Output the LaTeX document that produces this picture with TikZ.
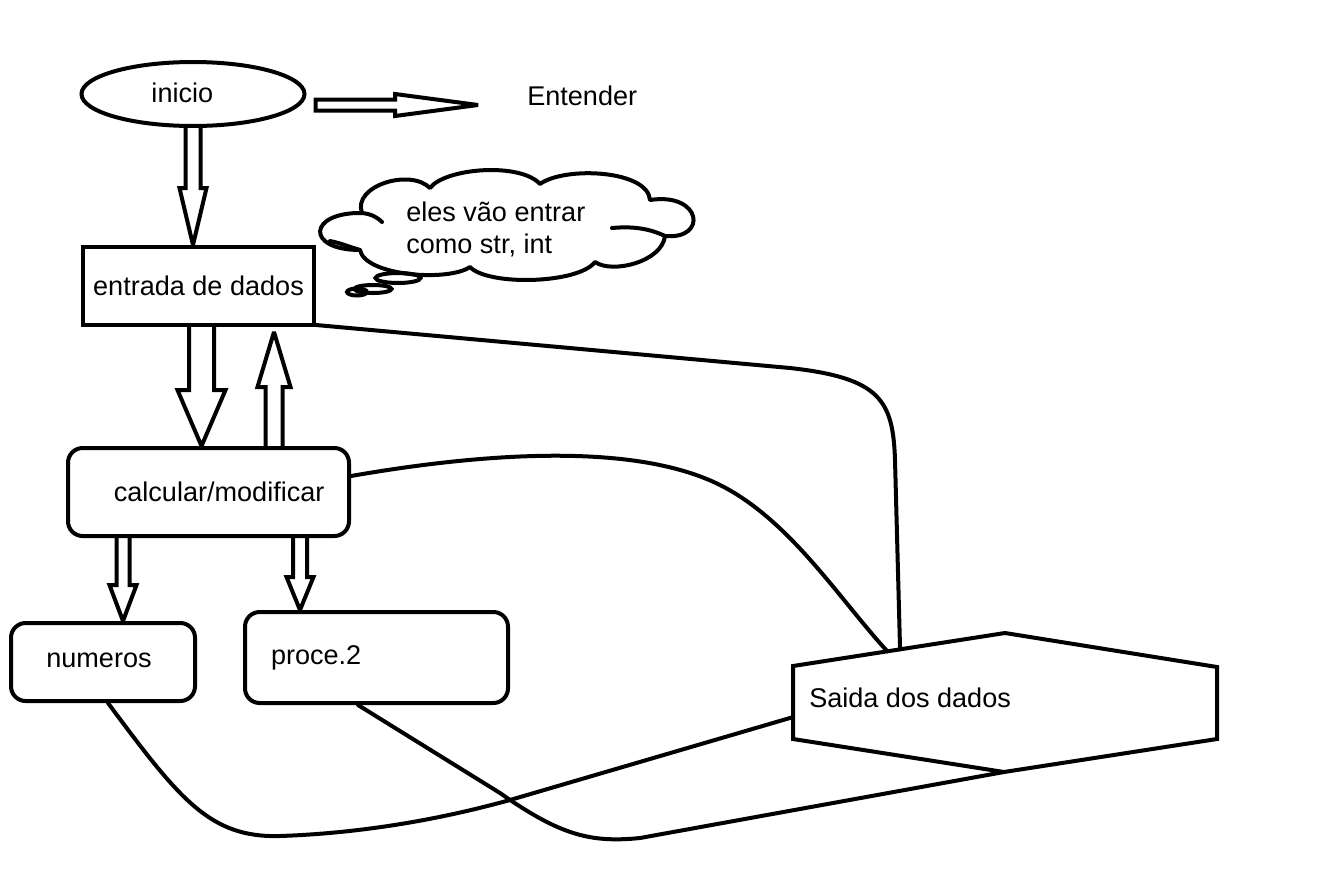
\documentclass[tikz,border=0pt]{standalone}
\usepackage{fontspec}
\setmainfont{Liberation Sans}
\usetikzlibrary{shapes.geometric,calc}

% vertical block arrow: start, tip, shaft half width, head half width, signed head length (px)
\newcommand\vblk[5]{\draw[blk] let \p1=#1, \p2=#2 in
  (\x2-#3*0.75pt,\y1) -- (\x2-#3*0.75pt,\y2+#5*0.75pt) -- (\x2-#4*0.75pt,\y2+#5*0.75pt)
  -- (\x2,\y2) -- (\x2+#4*0.75pt,\y2+#5*0.75pt) -- (\x2+#3*0.75pt,\y2+#5*0.75pt) -- (\x2+#3*0.75pt,\y1);}
% horizontal block arrow pointing right
\newcommand\hblk[5]{\draw[blk] let \p1=#1, \p2=#2 in
  (\x1,\y2+#3*0.75pt) -- (\x2-#5*0.75pt,\y2+#3*0.75pt) -- (\x2-#5*0.75pt,\y2+#4*0.75pt)
  -- (\x2,\y2) -- (\x2-#5*0.75pt,\y2-#4*0.75pt) -- (\x2-#5*0.75pt,\y2-#3*0.75pt) -- (\x1,\y2-#3*0.75pt) -- cycle;}

\begin{document}
\begin{tikzpicture}[x=0.75pt,y=-0.75pt,
  every node/.style={font=\fontsize{20.3}{24}\selectfont},
  ln/.style={line width=3pt},
  box/.style={ln,draw,rectangle,inner sep=0pt},
  rbox/.style={box,rounded corners=11pt},
  blk/.style={ln,line join=miter,miter limit=2},
  link/.style={ln,line cap=round,line join=round}]
\useasboundingbox (0,0) rectangle (1334,871);

% shapes
\node[ln,draw,ellipse,inner sep=0pt,minimum width=223*0.75pt,minimum height=64*0.75pt] (ini) at (193,94) {\raisebox{2pt}{inicio}\hspace*{16pt}};
\node[inner sep=0pt,anchor=west] (und) at (527,96) {Entender};
\coordinate (entip) at (478,105);
\node[box,minimum width=231*0.75pt,minimum height=78*0.75pt] (ent) at (198.5,286) {\raisebox{-3pt}{entrada de dados}};
\node[rbox,minimum width=281*0.75pt,minimum height=88*0.75pt] (calc) at (208.5,492) {\hspace*{16pt}calcular/modificar};
\node[rbox,minimum width=184*0.75pt,minimum height=78*0.75pt] (num) at (103,662) {\raisebox{3pt}{numeros}\hspace*{6pt}};
\node[rbox,minimum width=263*0.75pt,minimum height=91*0.75pt,text width=211*0.75pt,inner xsep=26*0.75pt,align=left] (proc) at (376.5,657.5) {proce.2};

% thought cloud, drawn puff by puff
\draw[ln,line join=round,line cap=round]
  (362,213) .. controls (352,186) and (410,168) .. (430,188)
  .. controls (445,168) and (520,162) .. (540,184)
  .. controls (565,166) and (648,170) .. (650,200)
  .. controls (702,192) and (708,240) .. (665,236)
  .. controls (662,262) and (612,274) .. (595,262)
  .. controls (578,284) and (488,286) .. (470,267)
  .. controls (448,282) and (365,276) .. (360,250)
  .. controls (305,250) and (308,212) .. (362,213)
  .. controls (372,214) and (378,218) .. (382,222);
\draw[ln,line cap=round] (665,236) .. controls (650,229) and (635,226) .. (612,228);
\draw[ln,line cap=round] (360,250) .. controls (350,247) and (340,243) .. (330,241);
\node[inner sep=0pt,anchor=north west,align=left] (clt) at (406,202) {eles vão entrar\\como str, int};
\node[ellipse,draw,ln,inner sep=0pt,minimum width=45*0.75pt,minimum height=10*0.75pt] (b1) at (398,278) {};
\node[ellipse,draw,ln,inner sep=0pt,minimum width=37*0.75pt,minimum height=8*0.75pt] (b2) at (373,289) {};
\node[ellipse,draw,ln,inner sep=0pt,minimum width=20*0.75pt,minimum height=7*0.75pt] (b3) at (357,292) {};

% output hexagon
\coordinate (h1) at (793,666);
\coordinate (h2) at (1005,633);
\coordinate (h3) at (1217,667);
\coordinate (h4) at (1217,739);
\coordinate (h5) at (1004,772);
\coordinate (h6) at (793,739);
\draw[ln,line join=miter] (h1) -- (h2) -- (h3) -- (h4) -- (h5) -- (h6) -- cycle;
\node[inner sep=0pt,anchor=west] (sai) at (809,698) {Saida dos dados};
\coordinate (s1) at ($(h1)!0.505!(h2)$);
\coordinate (s2) at ($(h1)!0.445!(h2)$);
\coordinate (s3) at ($(h6)!0.3!(h1)$);

% block arrows
\coordinate (r1) at ($(ini.east)+(9,11)$);
\hblk{(r1)}{(entip)}{5.5}{11}{83}
\vblk{(ini.south)}{(ini.south |- ent.north)}{7.5}{13.5}{57}
\coordinate (a1) at ($(ent.south)+(3,0)$);
\vblk{(a1)}{(a1 |- calc.north)}{12.5}{24}{56}
\coordinate (u1) at ($(calc.north)+(65.5,0)$);
\vblk{(u1)}{($(u1 |- ent.south)+(0,5)$)}{8.5}{16.5}{-55}
\coordinate (d1) at ($(calc.south)+(-85.5,0)$);
\vblk{(d1)}{(d1 |- num.north)}{6.5}{13.5}{36}
\coordinate (d2) at ($(calc.south)+(91.5,0)$);
\vblk{(d2)}{(d2 |- proc.north)}{7}{13.5}{33}

% connectors to the output
\draw[link] ($(ent.south east)+(0,-2)$) -- (790,368) .. controls (880,378) and (893,400) .. (895,460) -- (s1);
\draw[link] ($(calc.east)+(0,-16)$) .. controls (500,450) and (640,445) .. (720,485)
  .. controls (790,520) and (840,600) .. (s2);
\draw[link] ($(num.south)+(5,0)$) .. controls (180,800) and (210,838) .. (280,836)
  .. controls (340,834) and (420,825) .. (510,800) -- (s3);
\draw[link] ($(proc.south)+(-18.5,0)$) -- (500,793) .. controls (560,835) and (590,843) .. (640,838) -- (h5);
\end{tikzpicture}
\end{document}
